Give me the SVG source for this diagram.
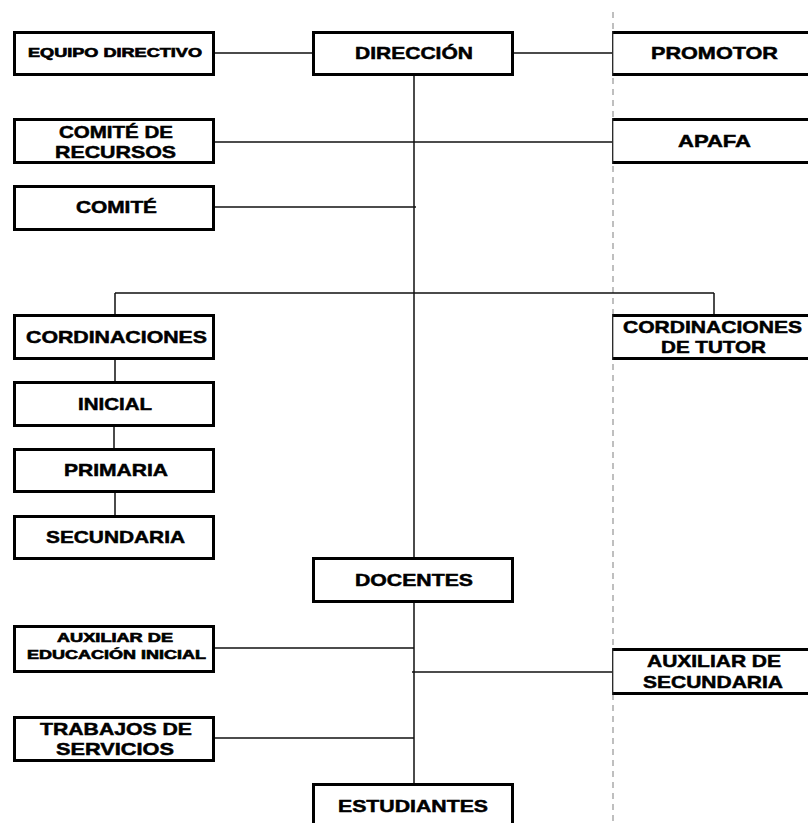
<svg xmlns="http://www.w3.org/2000/svg" width="808" height="823" viewBox="0 0 808 823">
<style>
.box{fill:#fff;stroke:#000;stroke-width:3}
.edge{fill:none;stroke:#000;stroke-width:3}
.thin{fill:none;stroke:#222;stroke-width:1.3}
.c{fill:none;stroke:#111;stroke-width:1.5}
text{font-family:"Liberation Sans",Arial,sans-serif;font-weight:bold;fill:#000;stroke:#000;stroke-width:0.5;text-anchor:middle}
.t{font-size:17px}
.s{font-size:12px;stroke-width:0.6}
</style>
<rect width="808" height="823" fill="#fff"/>
<line x1="613" y1="12" x2="613" y2="823" stroke="#aaa" stroke-width="1.5" stroke-dasharray="6,5"/>
<g id="connectors">
<path class="c" d="M215,53H312M514,53H612"/>
<path class="c" d="M414,76V557M414,603V783"/>
<path class="c" d="M215,142H612"/>
<path class="c" d="M215,207H416"/>
<path class="c" d="M115,293H714M115,293V314M714,293V314"/>
<path class="c" d="M115,360V381M114,427V448M115,493V515"/>
<path class="c" d="M215,648H414"/>
<path class="c" d="M412,672H612"/>
<path class="c" d="M215,738H414"/>
</g>
<g id="equipo-directivo"><rect class="box" x="14.5" y="32.5" width="199" height="42"/><text class="s" x="115" y="57" textLength="174" lengthAdjust="spacingAndGlyphs">EQUIPO DIRECTIVO</text></g>
<g id="direccion"><rect class="box" x="313.5" y="32.5" width="199" height="42"/><text class="t" x="414" y="59" textLength="118" lengthAdjust="spacingAndGlyphs">DIRECCIÓN</text></g>
<g id="promotor"><rect x="612" y="31" width="200" height="45" fill="#fff"/><path class="edge" d="M812,32.5H612.7M612.7,74.5H812"/><path class="thin" d="M612.7,31V76"/><text class="t" x="714.5" y="59" textLength="127" lengthAdjust="spacingAndGlyphs">PROMOTOR</text></g>
<g id="comite-recursos"><rect class="box" x="14.5" y="119.5" width="199" height="43"/><text class="t" x="116" y="138" textLength="114" lengthAdjust="spacingAndGlyphs">COMITÉ DE</text><text class="t" x="115.5" y="158" textLength="121" lengthAdjust="spacingAndGlyphs">RECURSOS</text></g>
<g id="apafa"><rect x="612" y="118" width="200" height="46" fill="#fff"/><path class="edge" d="M812,119.5H612.7M612.7,162.5H812"/><path class="thin" d="M612.7,118V164"/><text class="t" x="714.5" y="147" textLength="73" lengthAdjust="spacingAndGlyphs">APAFA</text></g>
<g id="comite"><rect class="box" x="14.5" y="186.5" width="199" height="43"/><text class="t" x="116.5" y="213" textLength="81" lengthAdjust="spacingAndGlyphs">COMITÉ</text></g>
<g id="cordinaciones"><rect class="box" x="14.5" y="315.5" width="199" height="43"/><text class="t" x="116.5" y="343" textLength="181" lengthAdjust="spacingAndGlyphs">CORDINACIONES</text></g>
<g id="cordinaciones-tutor"><rect x="612" y="314" width="200" height="46" fill="#fff"/><path class="edge" d="M812,315.5H612.7M612.7,358.5H812"/><path class="thin" d="M612.7,314V360"/><text class="t" x="712.5" y="333" textLength="179" lengthAdjust="spacingAndGlyphs">CORDINACIONES</text><text class="t" x="713.5" y="353" textLength="105" lengthAdjust="spacingAndGlyphs">DE TUTOR</text></g>
<g id="inicial"><rect class="box" x="14.5" y="382.5" width="199" height="43"/><text class="t" x="115" y="410" textLength="74" lengthAdjust="spacingAndGlyphs">INICIAL</text></g>
<g id="primaria"><rect class="box" x="14.5" y="449.5" width="199" height="42"/><text class="t" x="116" y="476" textLength="104" lengthAdjust="spacingAndGlyphs">PRIMARIA</text></g>
<g id="secundaria"><rect class="box" x="14.5" y="516.5" width="199" height="42"/><text class="t" x="115.5" y="543" textLength="139" lengthAdjust="spacingAndGlyphs">SECUNDARIA</text></g>
<g id="docentes"><rect class="box" x="313.5" y="558.5" width="199" height="43"/><text class="t" x="414" y="586" textLength="118" lengthAdjust="spacingAndGlyphs">DOCENTES</text></g>
<g id="auxiliar-inicial"><rect class="box" x="14.5" y="626.5" width="199" height="45"/><text class="s" x="115" y="642" textLength="116" lengthAdjust="spacingAndGlyphs">AUXILIAR DE</text><text class="s" x="116.5" y="659" textLength="179" lengthAdjust="spacingAndGlyphs">EDUCACIÓN INICIAL</text></g>
<g id="auxiliar-secundaria"><rect x="612" y="648" width="200" height="47" fill="#fff"/><path class="edge" d="M812,649.5H612.7M612.7,693.5H812"/><path class="thin" d="M612.7,648V695"/><text class="t" x="714" y="667" textLength="134" lengthAdjust="spacingAndGlyphs">AUXILIAR DE</text><text class="t" x="713" y="688" textLength="140" lengthAdjust="spacingAndGlyphs">SECUNDARIA</text></g>
<g id="trabajos-servicios"><rect class="box" x="14.5" y="717.5" width="199" height="43"/><text class="t" x="116" y="735" textLength="152" lengthAdjust="spacingAndGlyphs">TRABAJOS DE</text><text class="t" x="115" y="755" textLength="118" lengthAdjust="spacingAndGlyphs">SERVICIOS</text></g>
<g id="estudiantes"><rect class="box" x="313.5" y="784.5" width="199" height="50"/><text class="t" x="413" y="812" textLength="150" lengthAdjust="spacingAndGlyphs">ESTUDIANTES</text></g>
</svg>
